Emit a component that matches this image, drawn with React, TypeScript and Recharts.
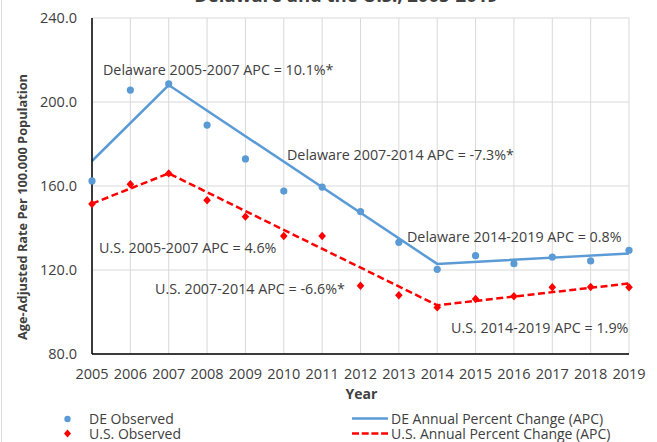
import React from 'react';
import { LineChart, Line, XAxis, YAxis, CartesianGrid, Legend, Label, Customized } from 'recharts';

const years = [2005, 2006, 2007, 2008, 2009, 2010, 2011, 2012, 2013, 2014, 2015, 2016, 2017, 2018, 2019];
const deObserved = [162.4, 205.7, 208.6, 189.0, 172.9, 157.6, 159.5, 147.8, 133.2, 120.3, 126.8, 123.0, 126.2, 124.3, 129.4];
const usObserved = [151.4, 160.8, 166.0, 153.2, 145.4, 136.2, 136.2, 112.5, 108.0, 102.2, 106.2, 107.5, 111.8, 111.9, 111.8];
const deApc: (number | null)[] = [171.9, null, 208.1, null, null, null, null, null, null, 122.9, null, null, null, null, 127.8];
const usApc: (number | null)[] = [151.6, null, 166.0, null, null, null, null, null, null, 103.2, null, null, null, null, 113.6];
const yTicks = [80, 120, 160, 200, 240];

const titleText = 'Delaware and the U.S., 2005-2019';
const yAxisTitle = 'Age-Adjusted Rate Per 100.000 Population';
const xAxisTitle = 'Year';
const annotationTexts = [
  'Delaware 2005-2007 APC = 10.1%*',
  'Delaware 2007-2014 APC = -7.3%*',
  'U.S. 2005-2007 APC = 4.6%',
  'U.S. 2007-2014 APC = -6.6%*',
  'Delaware 2014-2019 APC = 0.8%',
  'U.S. 2014-2019 APC = 1.9%',
];
const legendLabels = ['DE Observed', 'U.S. Observed', 'DE Annual Percent Change (APC)', 'U.S. Annual Percent Change (APC)'];

const data = years.map((y, i) => ({
  year: y,
  deObs: deObserved[i],
  usObs: usObserved[i],
  deApc: deApc[i],
  usApc: usApc[i],
}));

const FONT = '"Open Sans", sans-serif';
const BLUE = '#5B9BD5';
const RED = '#FF0000';
const TEXT = '#404040';

// annotation layout (pixel positions: text start x, vertical center y)
const annotationPos = [
  [103, 69],
  [287, 154],
  [99, 247],
  [155, 288],
  [407, 236],
  [451, 327],
];

const Annotations = () => (
  <g>
    <line x1={1.5} x2={1.5} y1={0} y2={442} stroke="#D9D9D9" strokeWidth={1} />
    <text x={346} y={1.5} textAnchor="middle" fontFamily={FONT} fontWeight="bold" fontSize={18.5} fill={TEXT}>
      {titleText}
    </text>
    {annotationTexts.map((t, i) => (
      <text
        key={i}
        x={annotationPos[i][0]}
        y={annotationPos[i][1]}
        dominantBaseline="central"
        fontFamily={FONT}
        fontSize={14.3}
        fill={TEXT}
      >
        {t}
      </text>
    ))}
  </g>
);

const Diamond = (props: any) => {
  const { cx, cy } = props;
  if (cx == null || cy == null) return null;
  return <polygon points={`${cx},${cy - 4.2} ${cx + 3.8},${cy} ${cx},${cy + 4.2} ${cx - 3.8},${cy}`} fill={RED} />;
};

const Circle = (props: any) => {
  const { cx, cy } = props;
  if (cx == null || cy == null) return null;
  return <circle cx={cx} cy={cy} r={3.6} fill={BLUE} />;
};

const renderLegend = () => (
  <svg width={657} height={48} style={{ display: 'block' }}>
    <g fontFamily={FONT} fontSize={14} fill={TEXT}>
      <circle cx={67.5} cy={25} r={3.2} fill={BLUE} />
      <text x={89} y={24.5} dominantBaseline="central">{legendLabels[0]}</text>
      <polygon points="67.5,35.5 71,39.5 67.5,43.5 64,39.5" fill={RED} />
      <text x={89} y={39.3} dominantBaseline="central">{legendLabels[1]}</text>
      <line x1={352} x2={388} y1={24.5} y2={24.5} stroke={BLUE} strokeWidth={2.5} />
      <text x={391} y={24.5} dominantBaseline="central">{legendLabels[2]}</text>
      <line x1={352} x2={388} y1={39.5} y2={39.5} stroke={RED} strokeWidth={2.5} strokeDasharray="7 2.7" />
      <text x={391} y={39.3} dominantBaseline="central">{legendLabels[3]}</text>
    </g>
  </svg>
);

export default function App() {
  return (
    <div style={{ position: 'absolute', left: 0, top: 0, width: 657, height: 442, background: '#fff' }}>
      <LineChart width={657} height={442} data={data} margin={{ top: 18, right: 28, bottom: 0, left: 0 }}>
        <CartesianGrid stroke="#D9D9D9" strokeWidth={1} />
        <XAxis
          dataKey="year"
          height={40}
          tickLine={false}
          axisLine={{ stroke: '#000', strokeWidth: 1.5 }}
          tick={{ fill: TEXT, fontFamily: FONT, fontSize: 14.5 }}
          tickMargin={9}
          interval={0}
          padding={{ left: 0, right: 0 }}
        >
          <Label
            content={(p: any) => {
              const vb = p.viewBox;
              return (
                <text x={vb.x + vb.width / 2 + 1} y={393} textAnchor="middle" dominantBaseline="central" fontFamily={FONT} fontWeight="bold" fontSize={14} fill={TEXT}>
                  {xAxisTitle}
                </text>
              );
            }}
          />
        </XAxis>
        <YAxis
          width={92}
          domain={[80, 240]}
          ticks={yTicks}
          tickFormatter={(v: number) => v.toFixed(1)}
          tickLine={false}
          tickSize={0}
          tickMargin={15}
          axisLine={{ stroke: '#000', strokeWidth: 1.5 }}
          tick={{ fill: TEXT, fontFamily: FONT, fontSize: 14.5 }}
          allowDataOverflow
        >
          <Label
            content={(p: any) => {
              const vb = p.viewBox;
              const cy = vb.y + vb.height / 2 + 21;
              return (
                <text x={22} y={cy} transform={`rotate(-90 22 ${cy})`} textAnchor="middle" dominantBaseline="central" fontFamily={FONT} fontWeight="bold" fontSize={12.8} fill={TEXT}>
                  {yAxisTitle}
                </text>
              );
            }}
          />
        </YAxis>
        <Line dataKey="deApc" stroke={BLUE} strokeWidth={2.5} dot={false} connectNulls isAnimationActive={false} />
        <Line dataKey="usApc" stroke={RED} strokeWidth={2.5} strokeDasharray="7 3.5" dot={false} connectNulls isAnimationActive={false} />
        <Line dataKey="deObs" stroke="none" dot={<Circle />} activeDot={false} isAnimationActive={false} />
        <Line dataKey="usObs" stroke="none" dot={<Diamond />} activeDot={false} isAnimationActive={false} />
        <Legend verticalAlign="bottom" height={48} content={renderLegend} wrapperStyle={{ left: 0, width: 657 }} />
        <Customized component={<Annotations />} />
      </LineChart>
    </div>
  );
}
